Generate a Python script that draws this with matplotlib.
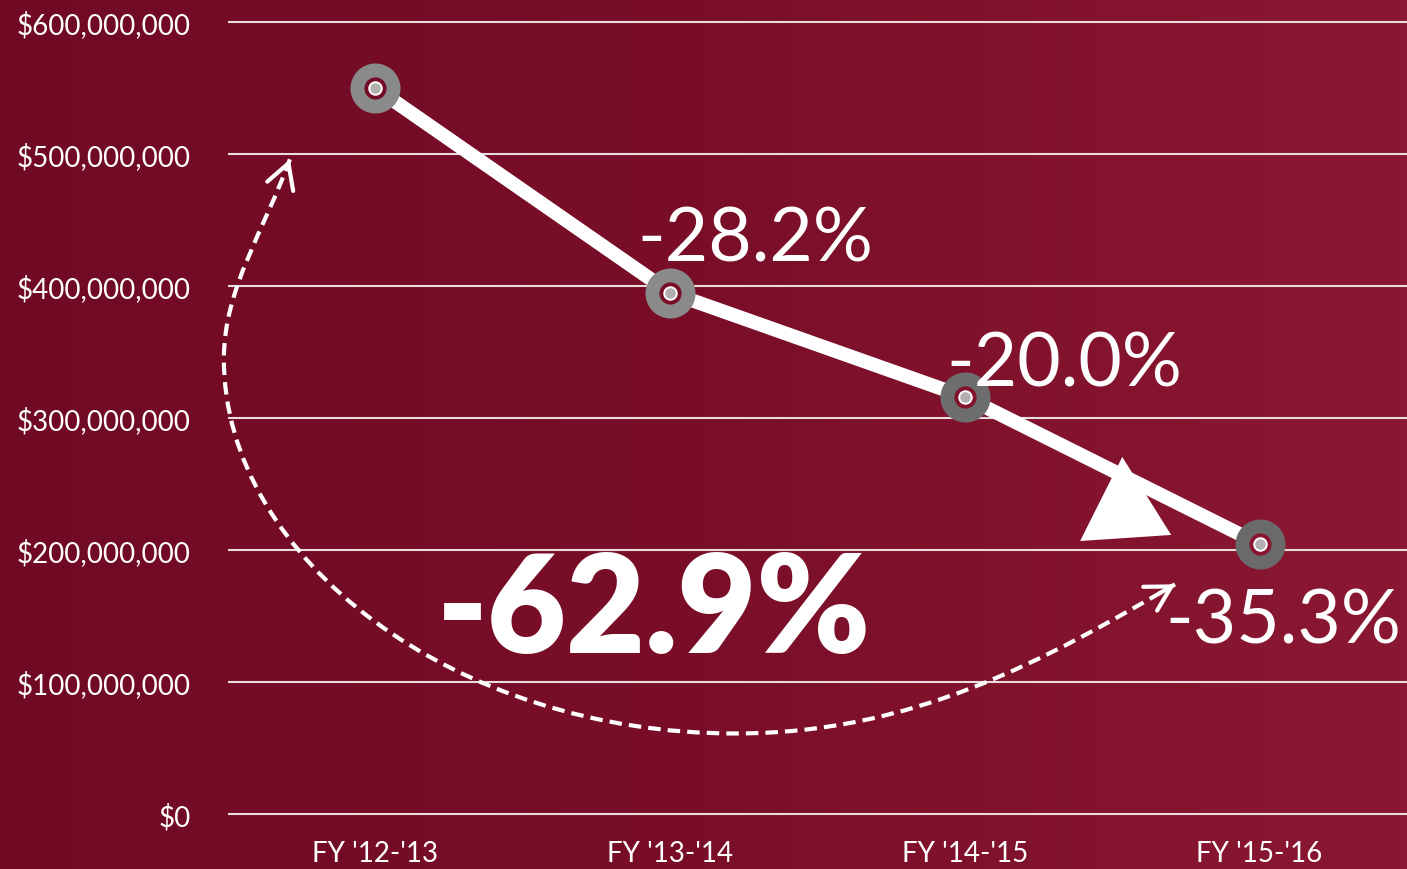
import numpy as np
import matplotlib.pyplot as plt
from matplotlib.colors import LinearSegmentedColormap
from matplotlib.patches import Polygon, PathPatch
from matplotlib.path import Path

# ---------------------------------------------------------
# Data
# ---------------------------------------------------------
years = ["FY '12-'13", "FY '13-'14", "FY '14-'15", "FY '15-'16"]
funding = [550_000_000, 395_000_000, 316_000_000, 204_500_000]
step_labels = ["-28.2%", "-20.0%", "-35.3%"]
total_label = "-62.9%"
y_ticks = [0, 100_000_000, 200_000_000, 300_000_000,
           400_000_000, 500_000_000, 600_000_000]
ring_colors = ["#8a8a8a", "#8a8a8a", "#6e6e6e", "#6a6a6a"]

# annotation shapes (data coordinates)
arrowhead_x = [2.534, 2.391, 2.700]
arrowhead_y = [270.5e6, 206.8e6, 211.4e6]
curve_x = [-0.290, -0.375, -0.514, -0.514, -0.514, 0.270, 1.220, 1.831, 2.272, 2.713]
curve_y = [496e6, 443e6, 398e6, 345e6, 193e6, 61e6, 61e6, 61e6, 117e6, 174e6]

plt.rcParams["font.family"] = ["Lato", "DejaVu Sans"]

W, H = 1407, 870
fig = plt.figure(figsize=(W / 100, H / 100), dpi=100)

# ---------------------------------------------------------
# Background gradient
# ---------------------------------------------------------
bg_cmap = LinearSegmentedColormap.from_list("bg", ["#700a24", "#7a0e29", "#8b1832"])
bg = fig.add_axes([0, 0, 1, 1], zorder=-1)
grad = np.linspace(0, 1, 256).reshape(1, -1)
bg.imshow(grad, cmap=bg_cmap, aspect="auto", extent=[0, 1, 0, 1])
bg.axis("off")

# ---------------------------------------------------------
# Main axes
# ---------------------------------------------------------
ypad = 5e6
px_per = 792 / 600e6
bottom_px = 815 + ypad * px_per
ax = fig.add_axes([228 / W, (H - bottom_px) / H, 1179 / W, (600e6 + 2 * ypad) * px_per / H])
ax.set_facecolor("none")
ax.set_xlim(-0.5, 3.5)
ax.set_ylim(-ypad, 600e6 + ypad)

for s in ax.spines.values():
    s.set_visible(False)

ax.set_yticks(y_ticks)
ax.set_yticklabels(["${:,.0f}".format(v) for v in y_ticks])
ax.set_xticks(range(len(years)))
ax.set_xticklabels(years)
ax.tick_params(axis="y", length=0, pad=27, labelsize=20, labelcolor="white")
ax.tick_params(axis="x", length=0, pad=14, labelsize=20, labelcolor="white")
ax.yaxis.grid(True, color="#e8dcdf", linewidth=1.5)
ax.set_axisbelow(True)

# line
x = np.arange(len(years))
ax.plot(x, funding, color="white", linewidth=10, zorder=3, solid_capstyle="butt")

# markers: grey ring with small light dot
for i, v in enumerate(funding):
    face = bg_cmap((228 + 1179 * (i + 0.5) / 4) / W)
    ax.plot(i, v, marker="o", markersize=26, markerfacecolor=face,
            markeredgecolor=ring_colors[i], markeredgewidth=10, zorder=4)
    ax.plot(i, v, marker="o", markersize=9, markerfacecolor="#b3aeb0",
            markeredgecolor="white", markeredgewidth=1.4, zorder=5)

# big arrowhead on the line
ax.add_patch(Polygon(list(zip(arrowhead_x, arrowhead_y)), closed=True,
                     facecolor="white", edgecolor="none", zorder=3))

# dashed curved arrow
verts = list(zip(curve_x, curve_y))
codes = [Path.MOVETO] + [Path.CURVE4] * (len(verts) - 1)
ax.add_patch(PathPatch(Path(verts, codes), facecolor="none", edgecolor="white",
                       linewidth=3.0, linestyle=(0, (3.0, 1.7)), zorder=2,
                       clip_on=False))
for tip, ctrl in [(verts[0], verts[1]), (verts[-1], verts[-2])]:
    back = (tip[0] + 0.12 * (ctrl[0] - tip[0]), tip[1] + 0.12 * (ctrl[1] - tip[1]))
    ax.annotate("", xy=tip, xytext=back,
                arrowprops=dict(arrowstyle="->,head_length=0.8,head_width=0.45",
                                color="white", lw=3.0, shrinkA=0, shrinkB=0,
                                mutation_scale=22), zorder=2,
                annotation_clip=False)

# step change labels
offsets = [(85, 32), (99, 11), (24, -98)]
for i, (lab, off) in enumerate(zip(step_labels, offsets)):
    ax.annotate(lab, xy=(i + 1, funding[i + 1]), xytext=off,
                textcoords="offset pixels", ha="center", va="baseline",
                fontsize=54, color="white", zorder=6)

# total change label
ax.text(0.946, 123e6, total_label, ha="center", va="baseline",
        fontsize=98, fontweight="heavy", color="white", zorder=6)

fig.savefig("out.png", dpi=100)
plt.close(fig)
